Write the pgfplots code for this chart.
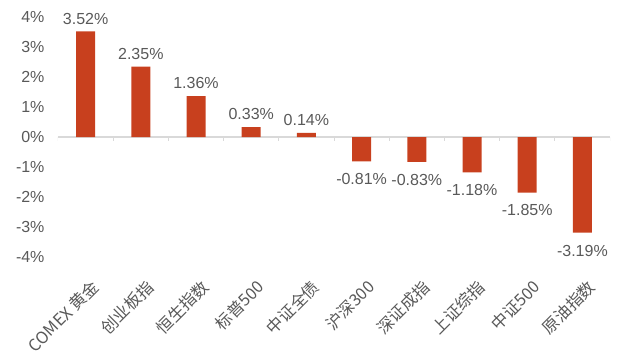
\documentclass[border=0pt]{standalone}
\usepackage{pgfplots}
\pgfplotsset{compat=1.18}
\usepackage{fontspec}
\setmainfont{Liberation Sans}
\newfontfamily\cjk{Noto Sans CJK SC}
\definecolor{barred}{RGB}{200,64,30}
\definecolor{txt}{RGB}{89,89,89}
\definecolor{zline}{RGB}{217,217,217}
\begin{document}
\begin{tikzpicture}
\useasboundingbox (-58pt,-97pt) rectangle (560pt,257pt);
\begin{axis}[
  at={(0pt,0pt)}, anchor=south west,
  scale only axis, width=552pt, height=240pt,
  ymin=-4, ymax=4, xmin=-0.5, xmax=9.5,
  ybar, bar width=19pt, bar shift=0pt,
  axis line style={draw=none},
  ytick={-4,...,4},
  yticklabel={\pgfmathprintnumber[assume math mode=true]{\tick}\%},
  yticklabel style={font=\fontsize{16}{16}\selectfont, text=txt, xshift=-10pt},
  major tick length=0pt,
  xtick={0,...,9},
  xticklabels={COMEX 黄金,创业板指,恒生指数,标普500,中证全债,沪深300,深证成指,上证综指,中证500,原油指数},
  xticklabel style={font=\cjk\fontsize{16.5}{17}\selectfont, text=txt, rotate=45, anchor=east, inner sep=0pt, xshift=-12pt, yshift=-26pt},
  nodes near coords={\pgfmathprintnumber[fixed,fixed zerofill,precision=2,assume math mode=true]{\pgfplotspointmeta}\%},
  every node near coord/.append style={font=\fontsize{16}{16}\selectfont, text=txt, inner sep=4pt},
]
\draw[zline, line width=1.3pt] (axis cs:-0.5,0) -- (axis cs:9.5,0);
\pgfplotsinvokeforeach{-0.5,0.5,...,9.5}{\draw[zline, line width=1pt] (axis cs:#1,0) -- ++(0pt,-4pt);}
\addplot[fill=barred, draw=none, every node near coord/.append style={yshift=3pt}] coordinates {
(0,3.52) (1,2.35) (2,1.36) (3,0.33) (4,0.14)};
\addplot[fill=barred, draw=none, every node near coord/.append style={yshift=-8pt}] coordinates {
(5,-0.81) (6,-0.83) (7,-1.18) (8,-1.85) (9,-3.19)};
\end{axis}
\end{tikzpicture}
\end{document}
